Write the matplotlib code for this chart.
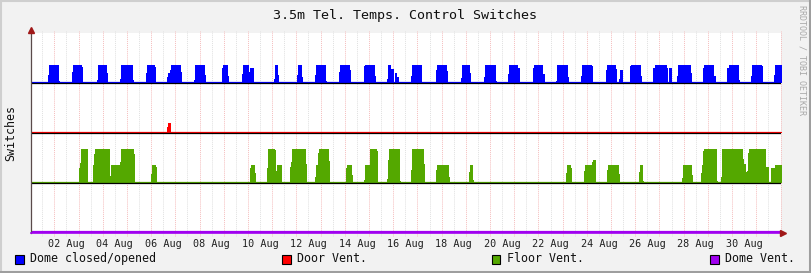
import numpy as np
import matplotlib
matplotlib.use("Agg")
import matplotlib.pyplot as plt
from matplotlib.patches import Rectangle
from matplotlib.lines import Line2D

# ---------------- data (hours since Aug 01 00:00, value as fraction of "on") -------------
dome_closed = [(18,0.42),(19,1),(29,0.08),(30,0),
    (42,0.62),(43,1),(51,0.88),(52,0),
    (66,0.13),(67,1),(76,0.54),(77,0),
    (89,0.19),(90,1),(102,0.13),(103,0),
    (115,0.52),(116,1),(124,0.88),(125,0),
    (136,0.31),(137,0.54),(139,0.73),(140,1),(150,0.6),(151,0),
    (162,0.13),(163,1),(173,0.42),(174,0),
    (190,0.85),(191,1),(196,0.37),(197,0),
    (210,0.48),(211,1),(217,0.62),(218,0.85),(222,0),
    (242,0.19),(243,1),(246,0.42),(247,0),
    (265,0.42),(266,1),(270,0.31),(271,0),
    (282,0.42),(283,1),(293,0.08),(294,0),
    (306,0.62),(307,1),(317,0.71),(318,0),
    (331,0.94),(332,1),(342,0.37),(343,0),
    (354,0.19),(355,1),(358,0.79),(361,0),(362,0.54),(364,0.31),(366,0),
    (378,0.37),(379,1),(389,0),
    (402,0.71),(403,1),(413,0.65),(414,0),
    (427,0.25),(428,1),(436,0.54),(437,0),
    (450,0.31),(451,1),(462,0.08),(463,0),
    (474,0.48),(475,1),(484,0.83),(486,0),
    (499,0.83),(500,1),(509,0.48),(510,0),
    (521,0.08),(522,1),(533,0.31),(534,0),
    (546,0.37),(547,1),(557,0.94),(558,0),
    (571,0.71),(572,1),(581,0.77),(582,0),(584,0.19),(585,0.71),(588,0),
    (595,0.94),(596,1),(606,0.37),(607,0),
    (618,0.83),(620,1),(631,0.83),(632,0),(633,0.83),(636,0),
    (641,0.37),(642,1),(655,0.54),(656,0),
    (667,0.83),(668,1),(678,0.37),(680,0),
    (691,0.83),(693,1),(703,0.13),(704,0),
    (715,0.37),(716,1),(726,0.94),(727,0),
    (738,0.42),(739,1)]

door_vent = [(136,0.31),(137,0.54),(140,0)]

floor_vent = [(48,0.42),(49,0.57),(50,1),(57,0),
    (62,0.52),(63,0.85),(64,1),(79,0.19),(80,0.52),(89,0.6),(90,1),(103,0.85),(104,0),
    (120,0.25),(121,0.52),(125,0.45),(126,0),
    (218,0.42),(219,0.52),(223,0.27),(224,0),
    (235,0.42),(236,1),(243,0.97),(244,0.34),(245,0.52),(250,0),
    (258,0.45),(259,0.6),(260,1),(274,0.55),(275,0),
    (282,0.15),(283,0.52),(285,0.88),(286,1),(296,0.64),(297,0),
    (313,0.42),(314,0.52),(319,0.22),(320,0),
    (331,0.07),(332,0.52),(337,1),(344,0.94),(345,0),
    (354,0.1),(355,0.67),(356,1),(367,0.04),(368,0),
    (378,0.37),(379,1),(391,0.55),(392,0),
    (402,0.37),(403,0.52),(415,0.16),(416,0),
    (435,0.31),(436,0.52),(439,0.07),(440,0),
    (531,0.28),(532,0.52),(536,0.42),(537,0),
    (549,0.34),(550,0.52),(557,0.61),(558,0.67),(561,0),
    (572,0.37),(573,0.52),(584,0.25),(585,0),
    (604,0.31),(605,0.52),(608,0.04),(609,0),
    (646,0.13),(647,0.52),(656,0.22),(657,0),
    (665,0.28),(666,0.52),(667,0.94),(668,1),(681,0.04),(682,0),
    (685,0.16),(686,1),(707,0.7),(708,0.55),(710,0.31),(711,0.34),(712,0.88),(713,1),(730,0.46),(733,0),
    (735,0.43),(739,0.52)]

dome_vent = []

tick_days = [2, 4, 6, 8, 10, 12, 14, 16, 18, 20, 22, 24, 26, 28, 30]
tick_labels = ["%02d Aug" % d for d in tick_days]

series = [
    ("Dome closed/opened", dome_closed, 3, 0.35, "#0000FF"),
    ("Door Vent.",         door_vent,   2, 0.35, "#FF0000"),
    ("Floor Vent.",        floor_vent,  1, 0.67, "#54A800"),
    ("Dome Vent.",         dome_vent,   0, 0.35, "#A000F0"),
]

# ---------------- figure ----------------
W, H = 811, 273
fig = plt.figure(figsize=(W/100, H/100), dpi=100)
fig.patch.set_facecolor("#F2F2F2")
MONO = "DejaVu Sans Mono"

x0, x1 = 1.036, 32.02  # days (Aug d 00:00 = d)
ax = fig.add_axes([31/W, (H-233)/H, 750/W, 200/H])
ax.set_facecolor("white")
ax.set_xlim(x0, x1)
ax.set_ylim(0, 4)
for s in ax.spines.values():
    s.set_visible(False)

# grid
for d in np.arange(1.5, 32.0, 1.0):
    if x0 < d < x1:
        ax.add_line(Line2D([d, d], [-0.06, 4.04], color="#E0E0E0", lw=0.7,
                           ls=(0, (1, 1)), clip_on=False, zorder=1))
for d in np.arange(2, 33, 1):
    if x0 < d <= x1:
        ax.add_line(Line2D([d, d], [-0.06, 4.04], color="#F5BDBD", lw=0.7,
                           ls=(0, (1, 1)), clip_on=False, zorder=1))

# series
for name, data, base, scale, color in series:
    hrs = [0.0] + [h for h, v in data] + [745.0]
    vals = [0.0] + [v for h, v in data]
    vals = vals + [vals[-1]]
    t = 1 + np.array(hrs) / 24.0
    y = base + np.array(vals) * scale + 0.012
    ax.fill_between(t, base, y, step="post", color=color, lw=0, zorder=3)
    if base > 0:
        ax.axhline(base + 0.012, color=color, lw=0.9, zorder=4)
        ax.axhline(base - 0.006, color="black", lw=0.9, zorder=5)
    else:
        ax.axhline(0.012, color=color, lw=1.6, zorder=4)

# axes lines + arrows
ax.add_line(Line2D([x0, x0], [0, 4.05], color="#5A4A4A", lw=0.9, clip_on=False, zorder=6))
ax.add_line(Line2D([x0, x1], [0, 0], color="#A000F0", lw=1.2, clip_on=False, zorder=6))
ax.plot([x0], [4.06], marker="^", ms=4, color="#A01818", clip_on=False, zorder=7)
ax.plot([x1 + 0.1], [0.0], marker=">", ms=4, color="#A01818", clip_on=False, zorder=7)

ax.set_yticks([])
ax.set_xticks([d + 0.5 for d in tick_days])
ax.set_xticklabels(tick_labels, fontfamily=MONO, fontsize=7.3, color="#202020")
ax.tick_params(axis="x", length=0, pad=4)

# texts
fig.text(405/W, 1 - 15/H, "3.5m Tel. Temps. Control Switches", fontfamily=MONO,
         fontsize=9.6, ha="center", va="center", color="#101010")
fig.text(11/W, 1 - 133/H, "Switches", fontfamily=MONO, fontsize=8.4, rotation=90,
         ha="center", va="center", color="#101010")
fig.text(802/W, 1 - 60/H, "RRDTOOL / TOBI OETIKER", fontfamily=MONO, fontsize=6,
         rotation=-90, ha="center", va="center", color="#A8A8A8")

# legend
leg_pos = [15, 282, 492, 710]
for (name, data, base, scale, color), lx in zip(series, leg_pos):
    fig.patches.append(Rectangle((lx/W, 1 - 263.5/H), 8.5/W, 9/H, transform=fig.transFigure,
                                 facecolor=color, edgecolor="black", lw=0.8))
    fig.text((lx + 15)/W, 1 - 258.5/H, name, fontfamily=MONO, fontsize=8.4,
             ha="left", va="center", color="#101010")

# frame shading
fig.add_artist(Line2D([0, 1], [1 - 0.5/H, 1 - 0.5/H], transform=fig.transFigure, color="#CFCFCF", lw=1.5))
fig.add_artist(Line2D([0.5/W, 0.5/W], [0, 1], transform=fig.transFigure, color="#CFCFCF", lw=1.5))
fig.add_artist(Line2D([0, 1], [1.2/H, 1.2/H], transform=fig.transFigure, color="#9E9E9E", lw=2.2))
fig.add_artist(Line2D([1 - 1.2/W, 1 - 1.2/W], [0, 1], transform=fig.transFigure, color="#9E9E9E", lw=2.2))

fig.savefig("out.png", dpi=100, facecolor=fig.get_facecolor())
